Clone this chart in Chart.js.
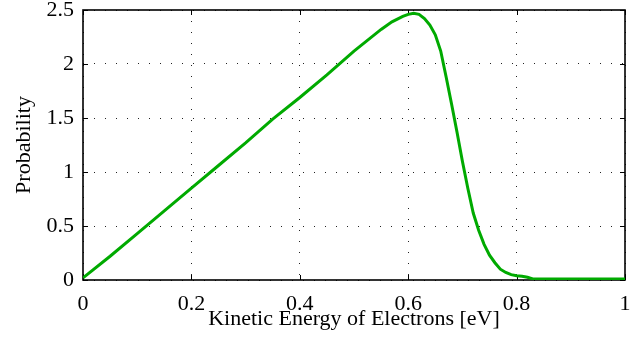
<!DOCTYPE html>
<html>
<head>
<meta charset="utf-8">
<script src="https://cdn.jsdelivr.net/npm/chart.js@4"></script>
<style>
html,body{margin:0;padding:0;background:#fff;}
#wrap{width:642px;height:349px;}
</style>
</head>
<body>
<div id="wrap"><canvas id="c" width="642" height="349"></canvas></div>
<script>
// Data
const energy = [0, 0.05, 0.1, 0.15, 0.2, 0.25, 0.3, 0.35, 0.4, 0.45, 0.5, 0.55, 0.57, 0.59, 0.6, 0.61, 0.62, 0.63, 0.64, 0.65, 0.66, 0.67, 0.68, 0.69, 0.70, 0.71, 0.72, 0.73, 0.74, 0.75, 0.76, 0.77, 0.78, 0.79, 0.80, 0.81, 0.82, 0.83, 0.9, 1.0];
const probability = [0.02, 0.22, 0.43, 0.64, 0.85, 1.06, 1.27, 1.49, 1.69, 1.90, 2.12, 2.32, 2.39, 2.44, 2.46, 2.47, 2.46, 2.42, 2.36, 2.27, 2.12, 1.88, 1.63, 1.37, 1.10, 0.85, 0.62, 0.46, 0.33, 0.23, 0.16, 0.10, 0.07, 0.05, 0.04, 0.035, 0.025, 0.01, 0.01, 0.01];
const xTicks = [0, 0.2, 0.4, 0.6, 0.8, 1];
const yTicks = [0, 0.5, 1, 1.5, 2, 2.5];
const xLabel = 'Kinetic Energy of Electrons [eV]';
const yLabel = 'Probability';

const FONT = 'Liberation Serif, Times New Roman, serif';

const boxPlugin = {
  id: 'box',
  beforeDatasetsDraw(chart) {
    const {ctx, chartArea: a, scales} = chart;
    ctx.save();
    ctx.strokeStyle = '#000';
    ctx.lineWidth = 1.6;
    ctx.strokeRect(a.left, a.top, a.right - a.left, a.bottom - a.top);
    ctx.lineWidth = 1;
    ctx.beginPath();
    const tl = 5;
    xTicks.forEach(v => {
      const p = Math.round(scales.x.getPixelForValue(v)) + 0.5;
      ctx.moveTo(p, a.bottom); ctx.lineTo(p, a.bottom - tl);
      ctx.moveTo(p, a.top); ctx.lineTo(p, a.top + tl);
    });
    yTicks.forEach(v => {
      const p = Math.round(scales.y.getPixelForValue(v)) + 0.5;
      ctx.moveTo(a.left, p); ctx.lineTo(a.left + tl, p);
      ctx.moveTo(a.right, p); ctx.lineTo(a.right - tl, p);
    });
    ctx.stroke();
    ctx.restore();
  }
};

new Chart(document.getElementById('c'), {
  type: 'line',
  data: {
    datasets: [{
      data: energy.map((x, i) => ({x: x, y: probability[i]})),
      borderColor: '#00aa00',
      borderWidth: 3,
      pointRadius: 0,
      tension: 0,
      fill: false
    }]
  },
  options: {
    responsive: false,
    animation: false,
    layout: {padding: {top: 10, right: 17, left: 0, bottom: 0}},
    plugins: {legend: {display: false}, tooltip: {enabled: false}},
    scales: {
      x: {
        type: 'linear',
        min: 0, max: 1,
        afterBuildTicks(s) { s.ticks = xTicks.map(v => ({value: v})); },
        afterFit(s) { s.height = 69; s.paddingLeft = 0; s.paddingRight = 0; },
        grid: {color: '#222', lineWidth: 1, drawTicks: false},
        border: {display: false, dash: [1, 10]},
        ticks: {
          color: '#000', padding: 11,
          font: {family: FONT, size: 22},
          maxRotation: 0, autoSkip: false,
          callback: v => String(Math.round(v * 10) / 10)
        },
        title: {display: true, text: xLabel, color: '#000', font: {family: FONT, size: 22}, padding: {top: 0, bottom: 17}}
      },
      y: {
        type: 'linear',
        min: 0, max: 2.5,
        afterBuildTicks(s) { s.ticks = yTicks.map(v => ({value: v})); },
        afterFit(s) { s.width = 83; s.paddingTop = 0; s.paddingBottom = 0; },
        grid: {color: '#222', lineWidth: 1, drawTicks: false},
        border: {display: false, dash: [1, 10]},
        ticks: {
          color: '#000', padding: 9,
          font: {family: FONT, size: 22},
          autoSkip: false,
          callback: v => String(Math.round(v * 10) / 10)
        },
        title: {display: true, text: yLabel, color: '#000', font: {family: FONT, size: 22}, padding: {top: 11, bottom: 0}}
      }
    }
  },
  plugins: [boxPlugin]
});
</script>
</body>
</html>
